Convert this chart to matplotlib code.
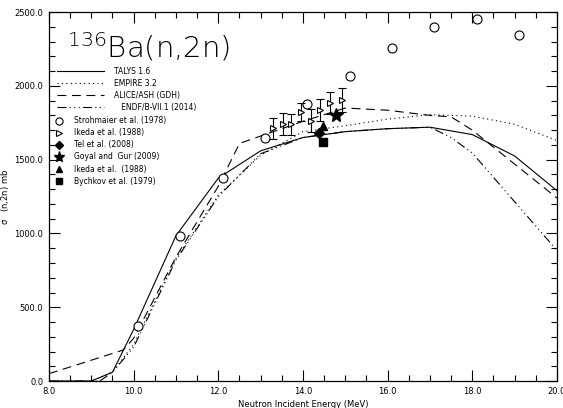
import numpy as np
import matplotlib
matplotlib.use('Agg')
import matplotlib.pyplot as plt
from matplotlib.ticker import MultipleLocator, FormatStrFormatter

# model curves (energy in MeV, cross section in mb)
talys_e = [8.0, 9.0, 9.5, 10.0, 11.0, 12.0, 13.0, 14.0, 15.0, 16.0, 17.0, 18.0, 19.0, 20.0]
talys_s = [0, 0, 60, 350, 985, 1375, 1560, 1650, 1690, 1710, 1720, 1670, 1525, 1290]

empire_e = [8.0, 9.0, 9.5, 10.0, 11.0, 12.0, 13.0, 14.0, 15.0, 16.0, 17.0, 18.0, 19.0, 20.0]
empire_s = [0, 0, 60, 250, 830, 1260, 1530, 1690, 1730, 1775, 1805, 1795, 1740, 1630]

alice_e = [8.0, 9.75, 10.0, 11.0, 12.0, 12.5, 13.0, 14.0, 15.0, 16.0, 17.0, 17.5, 18.0, 19.0, 20.0]
alice_s = [50, 210, 290, 840, 1320, 1610, 1660, 1760, 1850, 1835, 1800, 1790, 1700, 1470, 1240]

endf_e = [8.0, 9.2, 9.5, 10.0, 11.0, 12.0, 13.0, 14.0, 15.0, 16.0, 17.0, 17.5, 18.0, 19.0, 20.0]
endf_s = [0, 0, 60, 230, 820, 1250, 1540, 1650, 1690, 1710, 1720, 1650, 1545, 1215, 885]

# experimental data
strohm_e = [10.1, 11.1, 12.1, 13.1, 14.1, 15.1, 16.1, 17.1, 18.1, 19.1]
strohm_s = [370, 980, 1375, 1650, 1875, 2070, 2255, 2400, 2455, 2345]

ikeda_e = [13.30, 13.52, 13.72, 13.95, 14.19, 14.40, 14.64, 14.91]
ikeda_s = [1712, 1742, 1739, 1825, 1765, 1835, 1886, 1904]
ikeda_err = [70, 72, 72, 62, 75, 74, 74, 79]

tel_e = [14.38]
tel_s = [1678]
goyal_e = [14.78]
goyal_s = [1800]
ikeda2_e = [14.48]
ikeda2_s = [1730]
bychkov_e = [14.48]
bychkov_s = [1620]

plt.rcParams['font.family'] = ['DejaVu Sans']
plt.rcParams['mathtext.default'] = 'regular'
fig = plt.figure(figsize=(5.63, 4.08), dpi=100)
ax = fig.add_axes([0.087, 0.066, 0.9023, 0.9044])

lw = 0.8
l1, = ax.plot(talys_e, talys_s, color='black', lw=lw, ls='-', label='TALYS 1.6')
l2, = ax.plot(empire_e, empire_s, color='black', lw=lw, ls=(0, (1, 3)), label='EMPIRE 3.2')
l3, = ax.plot(alice_e, alice_s, color='black', lw=lw, ls=(0, (8, 5)), label='ALICE/ASH (GDH)')
l4, = ax.plot(endf_e, endf_s, color='black', lw=lw, ls=(0, (8, 3, 1, 3, 1, 3, 1, 3)),
              label='   ENDF/B-VII.1 (2014)')

m1, = ax.plot(strohm_e, strohm_s, 'o', mfc='white', mec='black', mew=0.8, ms=6.5,
              label='Strohmaier et al. (1978)')
ax.errorbar(ikeda_e, ikeda_s, yerr=ikeda_err, fmt='none', ecolor='black',
            elinewidth=0.8, capsize=3, capthick=0.8)
m2, = ax.plot(ikeda_e, ikeda_s, '>', mfc='white', mec='black', mew=0.8, ms=5,
              label='Ikeda et al. (1988)')
m3, = ax.plot(tel_e, tel_s, 'D', color='black', ms=5.5, label='Tel et al. (2008)')
m4, = ax.plot(goyal_e, goyal_s, '*', color='black', ms=10, label='Goyal and  Gur (2009)')
m5, = ax.plot(ikeda2_e, ikeda2_s, '^', color='black', ms=6, label='Ikeda et al.  (1988)')
m6, = ax.plot(bychkov_e, bychkov_s, 's', color='black', ms=6, label='Bychkov et al. (1979)')

ax.set_xlim(8, 20)
ax.set_ylim(0, 2500)
ax.xaxis.set_major_locator(MultipleLocator(2))
ax.xaxis.set_minor_locator(MultipleLocator(0.5))
ax.yaxis.set_major_locator(MultipleLocator(500))
ax.yaxis.set_minor_locator(MultipleLocator(100))
ax.xaxis.set_major_formatter(FormatStrFormatter('%.1f'))
ax.yaxis.set_major_formatter(FormatStrFormatter('%.1f'))
ax.tick_params(which='both', direction='in', top=True, right=True, labelsize=6, width=0.8)
ax.tick_params(which='major', length=8, pad=4)
ax.tick_params(which='minor', length=4)
for s in ax.spines.values():
    s.set_linewidth(0.9)

ax.set_xlabel('Neutron Incident Energy (MeV)', fontsize=6, labelpad=3)
ax.set_ylabel(r'$\sigma$   (n,2n) mb', fontsize=6)
ax.yaxis.set_label_coords(-0.075, 0.5)

ax.text(0.035, 0.95, r'$^{136}$Ba(n,2n)', transform=ax.transAxes, fontsize=21,
        va='top', ha='left', fontweight='light')

leg1 = ax.legend(handles=[l1, l2, l3, l4], loc='upper left', bbox_to_anchor=(0.006, 0.864),
                 frameon=False, fontsize=5.5, handlelength=6.2, handletextpad=1.3,
                 labelspacing=0.4, borderaxespad=0.2)
ax.add_artist(leg1)
ax.legend(handles=[m1, m2, m3, m4, m5, m6], loc='upper left', bbox_to_anchor=(0.0, 0.73),
          frameon=False, fontsize=5.5, handlelength=1.5, handletextpad=1.2,
          labelspacing=0.4, borderaxespad=0.2, markerscale=0.8)

plt.savefig('out.png', dpi=100)
